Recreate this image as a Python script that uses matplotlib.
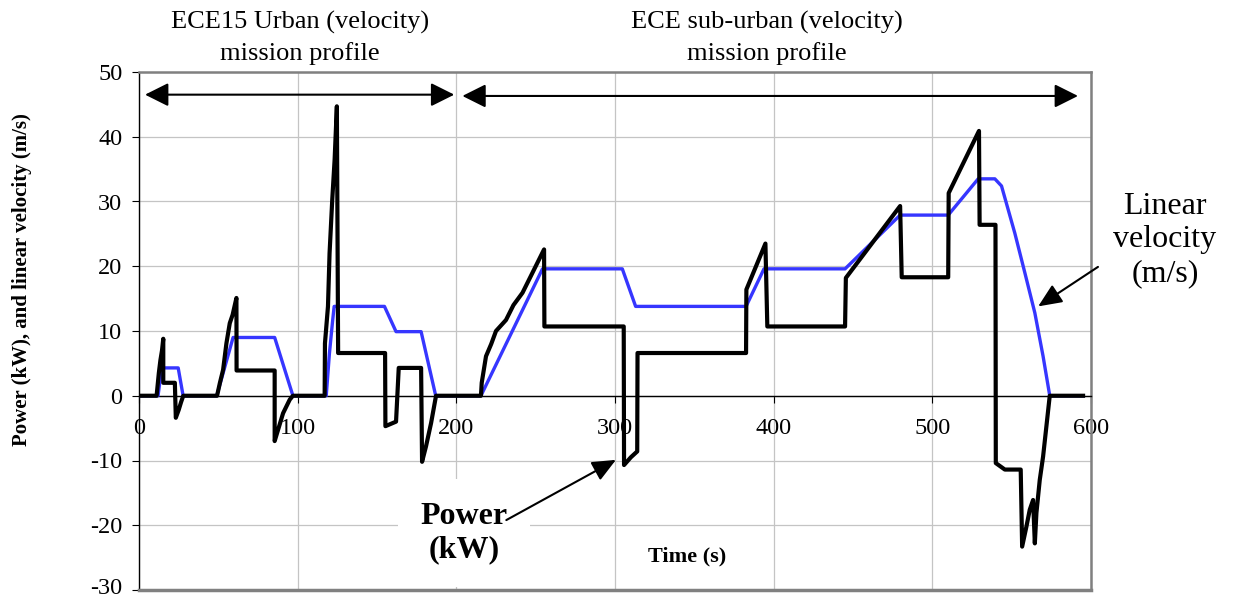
import numpy as np
import matplotlib.pyplot as plt
import matplotlib.transforms as mtransforms

# linear velocity (m/s)
t_vel = [0, 12, 14.3, 24.7, 27.8, 49, 59.3, 85.5, 97, 118, 120, 122, 123,
         154.7, 162, 177.8, 187, 215.5, 254.3, 304.6, 313, 382.6, 393.9,
         445, 479.7, 510, 528.9, 539.4, 543.6, 552, 558.3, 564.6, 569.8, 574, 595]
vel = [0, 0, 4.3, 4.3, 0, 0, 9.0, 9.0, 0, 0, 6.5, 11.5, 13.8,
       13.8, 9.9, 9.9, 0, 0, 19.6, 19.6, 13.8, 13.8, 19.6,
       19.6, 27.9, 27.9, 33.5, 33.5, 32.4, 25.1, 19.0, 12.8, 6.1, 0, 0]

# power (kW)
t_pow = [0, 11.1, 12.5, 13.5, 14.5, 15.3, 15.3, 22.6, 23.2, 25, 26.5, 27.9,
         49.2, 51, 53, 55.1, 57.2, 59, 61.4, 61.5, 85.5, 85.5, 87.6, 90.8, 95, 97,
         117, 117.2, 119.1, 120.1, 121.8, 123.3, 124.7, 125.5, 155.1, 155.3, 162,
         163.7, 177.8, 178.4, 180.9, 184.1, 187.2,
         215.5, 216, 218.7, 222, 225, 231.3, 236, 241.7, 248, 255.3, 255.5,
         305.5, 305.7, 310, 314, 314.2, 382.6, 382.8, 394.8, 396, 445, 445.5,
         479.7, 480.7, 510, 510.3, 529.4, 529.8, 539.8, 540, 545.7, 555.7,
         556.6, 559.3, 561.4, 563.5, 564.6, 565.6, 567.7, 569.8, 571.9, 574, 595]
power = [0, 0, 3.5, 5.5, 7.0, 8.8, 2.0, 2.0, -3.4, -2.2, -1.0, 0,
         0, 2.0, 4.0, 8.1, 11.2, 12.5, 15.1, 3.9, 3.9, -7.0, -5.3, -2.7, -0.6, 0,
         0, 8.1, 13.8, 22.0, 30.3, 36.5, 44.7, 6.6, 6.6, -4.7, -4.0,
         4.3, 4.3, -10.2, -7.8, -4.2, 0,
         0, 2.0, 6.1, 8.0, 10.0, 11.7, 14.0, 15.9, 19.0, 22.6, 10.7,
         10.7, -10.7, -9.5, -8.6, 6.6, 6.6, 16.4, 23.5, 10.7, 10.7, 18.2,
         29.3, 18.3, 18.3, 31.3, 40.9, 26.4, 26.4, -10.4, -11.4, -11.4,
         -23.3, -20.2, -17.6, -16.1, -22.8, -18.1, -13.0, -9.4, -4.7, 0, 0]

plt.rcParams['font.family'] = ['Liberation Serif', 'DejaVu Serif']
plt.rcParams['axes.unicode_minus'] = False

fig = plt.figure(figsize=(12.37, 5.97), dpi=100)
ax = fig.add_axes([139/1237, 7/597, 952/1237, 518/597])

ax.plot(t_vel, vel, color='#3636ff', lw=2.4, zorder=3)
ax.plot(t_pow, power, color='black', lw=3, zorder=4)

ax.set_xlim(0, 600)
ax.set_ylim(-30, 50)
ax.set_xticks(range(0, 601, 100))
ax.set_yticks(range(-30, 51, 10))
ax.grid(True, color='#c4c4c4', lw=0.9)
ax.set_axisbelow(True)

ax.spines['bottom'].set_position(('data', 0))
ax.spines['bottom'].set_linewidth(1.0)
ax.spines['left'].set_linewidth(1.0)
for s in ['top', 'right']:
    ax.spines[s].set_color('#808080')
    ax.spines[s].set_linewidth(1.8)
ax.axhline(-30, color='#808080', lw=2.5, clip_on=False, zorder=5)

ax.tick_params(axis='x', direction='out', length=5, pad=11, labelsize=17.5)
ax.tick_params(axis='y', direction='out', length=5, pad=7, labelsize=17.5)

# lift the lowest y label a little so it stays inside the picture
low = ax.yaxis.get_major_ticks()[0].label1
low.set_transform(low.get_transform() +
                  mtransforms.ScaledTranslation(0, 3/72, fig.dpi_scale_trans))

# mission profile arrows and labels
arr = dict(arrowstyle='<|-|>,head_length=0.8,head_width=0.4', color='black',
           lw=1.5, mutation_scale=18, shrinkA=0, shrinkB=0)
ax.annotate('', xy=(3.8, 46.5), xytext=(198.7, 46.5), arrowprops=arr)
ax.annotate('', xy=(203.8, 46.3), xytext=(591.8, 46.3), arrowprops=arr)
fig.text(300/1237, 1 - 38/597, 'ECE15 Urban (velocity)\nmission profile',
         ha='center', va='center', fontsize=19, linespacing=1.4)
fig.text(767/1237, 1 - 38/597, 'ECE sub-urban (velocity)\nmission profile',
         ha='center', va='center', fontsize=19, linespacing=1.4)

ax.text(204.7, -21.2, 'Power\n(kW)', ha='center', va='center', fontsize=23,
        fontweight='bold', zorder=6,
        bbox=dict(boxstyle='square,pad=0.7', facecolor='white', edgecolor='none'))
ax.annotate('', xy=(300.6, -9.9), xytext=(231.5, -19.2), zorder=7,
            arrowprops=dict(arrowstyle='-|>,head_length=0.8,head_width=0.35',
                            color='black', lw=1.5, mutation_scale=18,
                            shrinkA=0, shrinkB=0))
ax.text(345.3, -24.9, 'Time (s)', ha='center', va='center', fontsize=16,
        fontweight='bold')

fig.text(1165/1237, 1 - 240/597, 'Linear\nvelocity\n(m/s)', ha='center',
         va='center', fontsize=23, linespacing=1.2)
ax.annotate('', xy=(566.7, 13.8), xytext=(604.4, 19.9), zorder=7,
            arrowprops=dict(arrowstyle='-|>,head_length=0.8,head_width=0.35',
                            color='black', lw=1.5, mutation_scale=18,
                            shrinkA=0, shrinkB=0))

fig.text(22/1237, 1 - 280/597, 'Power (kW), and linear velocity (m/s)',
         rotation=90, ha='center', va='center', fontsize=15, fontweight='bold')

fig.savefig('out.png', dpi=100)
